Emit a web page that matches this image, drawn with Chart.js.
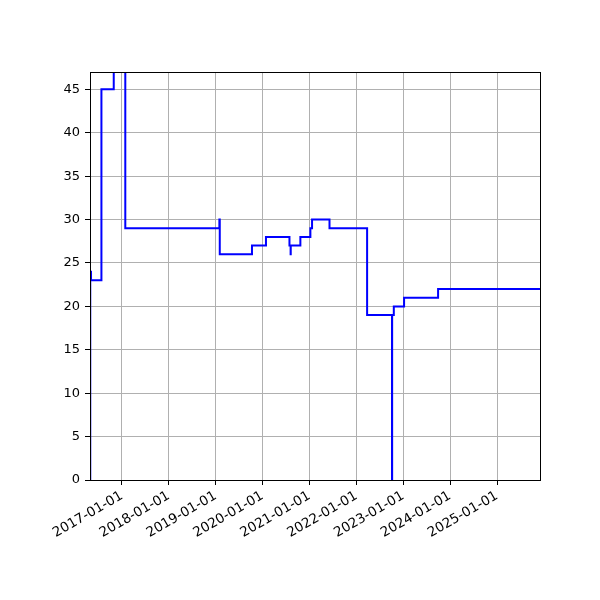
<!DOCTYPE html>
<html>
<head>
<meta charset="utf-8">
<script src="https://cdn.jsdelivr.net/npm/chart.js@4"></script>
<style>
  html, body { margin: 0; padding: 0; background: #ffffff; }
  #wrap { width: 600px; height: 600px; }
</style>
</head>
<body>
<div id="wrap"><canvas id="c" width="600" height="600"></canvas></div>
<script>
// ---- data (each value holds from its date until the next date) ----
const dates = [
  '2016-04-27', '2016-04-29', '2016-05-05', '2016-07-25', '2016-10-29',
  '2017-01-27', '2019-01-30', '2019-02-02', '2019-10-11', '2020-01-28',
  '2020-07-29', '2020-08-07', '2020-08-08', '2020-10-22', '2021-01-08',
  '2021-01-21', '2021-06-06', '2022-03-26', '2022-10-06', '2022-10-07',
  '2022-10-20', '2023-01-08', '2023-09-30', '2025-12-02'
];
const values = [
  0, 24, 23, 45, 52,
  29, 30, 26, 27, 28,
  27, 26, 27, 28, 29,
  30, 29, 19, 0, 19,
  20, 21, 22, 22
];
const xTickLabels = [
  '2017-01-01', '2018-01-01', '2019-01-01', '2020-01-01', '2021-01-01',
  '2022-01-01', '2023-01-01', '2024-01-01', '2025-01-01'
];
const yMin = 0;
const yMax = 47;
const yStep = 5;
const xStart = '2016-04-27';
const xEnd = '2025-12-02';

const points = dates.map((d, i) => ({ x: Date.parse(d), y: values[i] }));

const framePlugin = {
  id: 'frame',
  afterDraw(chart) {
    const a = chart.chartArea, ctx = chart.ctx;
    ctx.save();
    ctx.strokeStyle = '#000000';
    ctx.lineWidth = 1;
    ctx.strokeRect(Math.round(a.left) + 0.5, Math.round(a.top) + 0.5,
                   Math.round(a.right - a.left), Math.round(a.bottom - a.top));
    ctx.restore();
  }
};

const yFont = { family: 'DejaVu Sans', size: 13 };
const xFont = { family: 'DejaVu Sans', size: 13.5 };

new Chart(document.getElementById('c'), {
  type: 'line',
  data: {
    datasets: [{
      data: points,
      borderColor: '#0000ff',
      borderWidth: 2,
      pointRadius: 0,
      stepped: true,
      fill: false,
      clip: 0
    }]
  },
  options: {
    responsive: false,
    animation: false,
    devicePixelRatio: 1,
    layout: { padding: { top: 72, right: 60, left: 0, bottom: 0 } },
    plugins: { legend: { display: false }, tooltip: { enabled: false } },
    scales: {
      x: {
        type: 'linear',
        min: Date.parse(xStart),
        max: Date.parse(xEnd),
        afterBuildTicks(scale) {
          scale.ticks = xTickLabels.map(s => ({ value: Date.parse(s) }));
        },
        afterFit(scale) { scale.height = 120; },
        ticks: {
          autoSkip: false,
          maxRotation: 30,
          minRotation: 30,
          padding: 3,
          color: '#000000',
          font: xFont,
          callback: (v) => new Date(v).toISOString().slice(0, 10)
        },
        grid: { color: '#b0b0b0', lineWidth: 1, tickColor: '#000000', tickLength: 5 },
        border: { display: true, color: '#000000', width: 1 }
      },
      y: {
        min: yMin,
        max: yMax,
        afterFit(scale) { scale.width = 90; },
        ticks: {
          stepSize: yStep,
          includeBounds: false,
          padding: 5,
          color: '#000000',
          font: yFont
        },
        grid: { color: '#b0b0b0', lineWidth: 1, tickColor: '#000000', tickLength: 5 },
        border: { display: true, color: '#000000', width: 1 }
      }
    }
  },
  plugins: [framePlugin]
});
</script>
</body>
</html>
